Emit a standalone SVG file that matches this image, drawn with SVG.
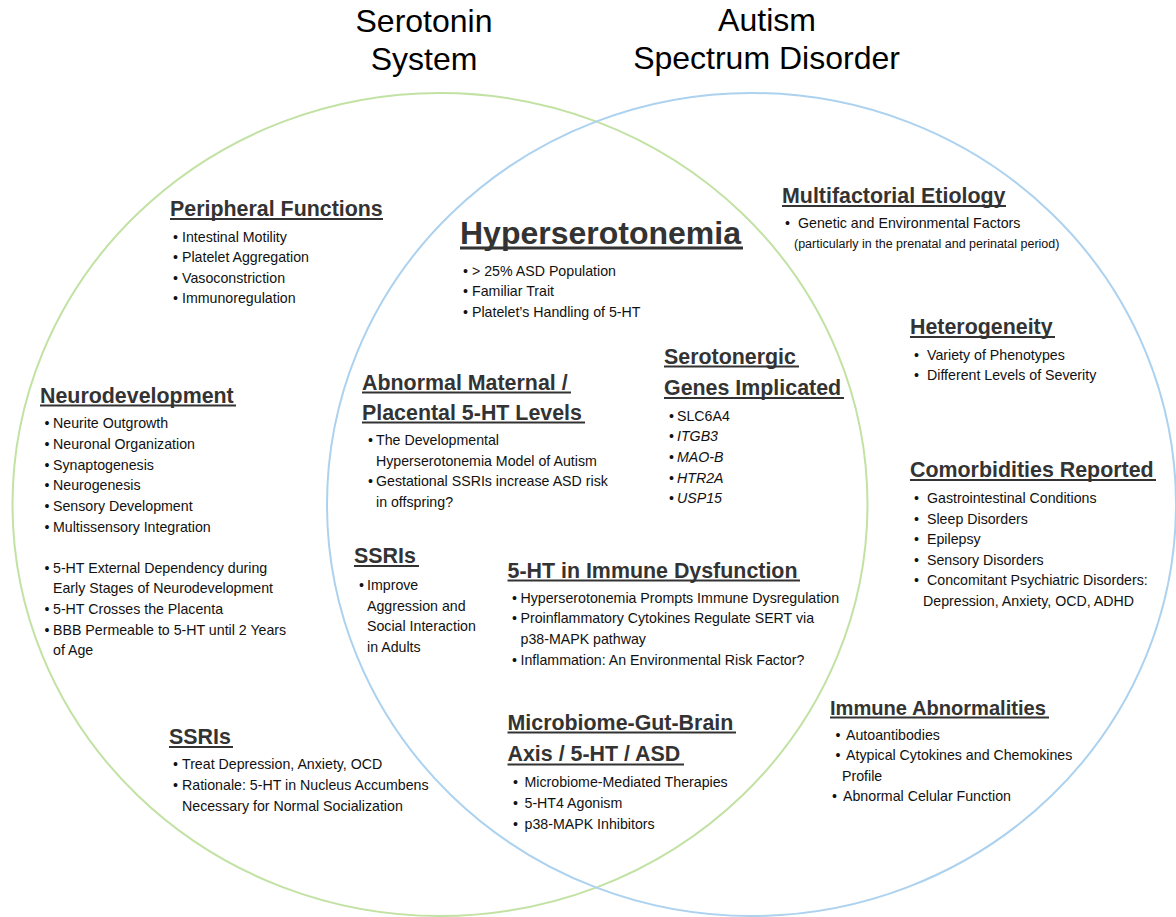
<svg xmlns="http://www.w3.org/2000/svg" width="1176" height="917" viewBox="0 0 1176 917">
<style>
.t{font-family:"Liberation Sans",Arial,sans-serif;font-size:32px;fill:#000;text-anchor:middle}
.h{font-family:"Liberation Sans",Arial,sans-serif;font-size:21.4px;font-weight:bold;fill:#333}
.hb{font-family:"Liberation Sans",Arial,sans-serif;font-size:32px;font-weight:bold;fill:#333}
.b{font-family:"Liberation Sans",Arial,sans-serif;font-size:14.2px;fill:#111}
.s{font-family:"Liberation Sans",Arial,sans-serif;font-size:12.5px;fill:#111}
.i{font-style:italic}
.ul{stroke:#333;stroke-width:2}
.ulb{stroke:#333;stroke-width:3}
</style>
<rect width="1176" height="917" fill="#fff"/>
<g id="venn" fill="none" stroke-width="2">
<ellipse cx="440" cy="504.5" rx="427.5" ry="411.5" stroke="#c2e2a4"/>
<ellipse cx="751.5" cy="504.5" rx="424.5" ry="411.5" stroke="#acd2ef"/>
</g>
<g id="title-serotonin"><text class="t" x="424" y="32">Serotonin</text><text class="t" x="424" y="70">System</text></g>
<g id="title-asd"><text class="t" x="767" y="31">Autism</text><text class="t" x="766.5" y="69">Spectrum Disorder</text></g>

<g id="peripheral">
<text class="h" x="170" y="216">Peripheral Functions</text><line class="ul" x1="170" y1="219" x2="383" y2="219"/>
<text class="b"><tspan x="173" y="241.5">•</tspan><tspan x="182" y="241.5">Intestinal Motility</tspan><tspan x="173" y="262">•</tspan><tspan x="182" y="262">Platelet Aggregation</tspan><tspan x="173" y="282.7">•</tspan><tspan x="182" y="282.7">Vasoconstriction</tspan><tspan x="173" y="303.3">•</tspan><tspan x="182" y="303.3">Immunoregulation</tspan></text>
</g>

<g id="hyperserotonemia">
<text class="hb" x="460" y="244">Hyperserotonemia</text><line class="ulb" x1="460" y1="248" x2="743" y2="248"/>
<text class="b"><tspan x="463" y="275.5">•</tspan><tspan x="472" y="275.5">&gt; 25% ASD Population</tspan><tspan x="463" y="296">•</tspan><tspan x="472" y="296">Familiar Trait</tspan><tspan x="463" y="316.5">•</tspan><tspan x="472" y="316.5">Platelet’s Handling of 5-HT</tspan></text>
</g>

<g id="multifactorial">
<text class="h" x="782" y="203">Multifactorial Etiology</text><line class="ul" x1="782" y1="206" x2="1006" y2="206"/>
<text class="b"><tspan x="785" y="228">•</tspan><tspan x="798" y="228">Genetic and Environmental Factors</tspan></text>
<text class="s" x="794" y="247.5">(particularly in the prenatal and perinatal period)</text>
</g>

<g id="heterogeneity">
<text class="h" x="910" y="334">Heterogeneity</text><line class="ul" x1="910" y1="337" x2="1055" y2="337"/>
<text class="b"><tspan x="914" y="359.5">•</tspan><tspan x="927" y="359.5">Variety of Phenotypes</tspan><tspan x="914" y="380">•</tspan><tspan x="927" y="380">Different Levels of Severity</tspan></text>
</g>

<g id="comorbidities">
<text class="h" x="910" y="477">Comorbidities Reported</text><line class="ul" x1="910" y1="480" x2="1156" y2="480"/>
<text class="b"><tspan x="914" y="503">•</tspan><tspan x="927" y="503">Gastrointestinal Conditions</tspan><tspan x="914" y="523.5">•</tspan><tspan x="927" y="523.5">Sleep Disorders</tspan><tspan x="914" y="544">•</tspan><tspan x="927" y="544">Epilepsy</tspan><tspan x="914" y="564.7">•</tspan><tspan x="927" y="564.7">Sensory Disorders</tspan><tspan x="914" y="585.3">•</tspan><tspan x="927" y="585.3">Concomitant Psychiatric Disorders:</tspan><tspan x="923" y="606">Depression, Anxiety, OCD, ADHD</tspan></text>
</g>

<g id="neurodevelopment">
<text class="h" x="40" y="402.5">Neurodevelopment</text><line class="ul" x1="40" y1="405.5" x2="236" y2="405.5"/>
<text class="b"><tspan x="44.5" y="428.3">•</tspan><tspan x="53" y="428.3">Neurite Outgrowth</tspan><tspan x="44.5" y="449">•</tspan><tspan x="53" y="449">Neuronal Organization</tspan><tspan x="44.5" y="469.7">•</tspan><tspan x="53" y="469.7">Synaptogenesis</tspan><tspan x="44.5" y="490.3">•</tspan><tspan x="53" y="490.3">Neurogenesis</tspan><tspan x="44.5" y="511">•</tspan><tspan x="53" y="511">Sensory Development</tspan><tspan x="44.5" y="531.7">•</tspan><tspan x="53" y="531.7">Multissensory Integration</tspan><tspan x="44.5" y="573.3">•</tspan><tspan x="53" y="573.3">5-HT External Dependency during</tspan><tspan x="53" y="593.3">Early Stages of Neurodevelopment</tspan><tspan x="44.5" y="614">•</tspan><tspan x="53" y="614">5-HT Crosses the Placenta</tspan><tspan x="44.5" y="634.7">•</tspan><tspan x="53" y="634.7">BBB Permeable to 5-HT until 2 Years</tspan><tspan x="53" y="655.3">of Age</tspan></text>
</g>

<g id="maternal">
<text class="h" x="362" y="389.5">Abnormal Maternal /</text><line class="ul" x1="362" y1="392.5" x2="571" y2="392.5"/>
<text class="h" x="362" y="419.5">Placental 5-HT Levels</text><line class="ul" x1="362" y1="422.5" x2="585" y2="422.5"/>
<text class="b"><tspan x="368" y="445">•</tspan><tspan x="376" y="445">The Developmental</tspan><tspan x="376" y="465.7">Hyperserotonemia Model of Autism</tspan><tspan x="368" y="486.3">•</tspan><tspan x="376" y="486.3">Gestational SSRIs increase ASD risk</tspan><tspan x="376" y="507">in offspring?</tspan></text>
</g>

<g id="genes">
<text class="h" x="664" y="363.5">Serotonergic</text><line class="ul" x1="664" y1="366.5" x2="799" y2="366.5"/>
<text class="h" x="664" y="394.5">Genes Implicated</text><line class="ul" x1="664" y1="398" x2="844" y2="398"/>
<text class="b"><tspan x="669" y="420.7">•</tspan><tspan x="677" y="420.7">SLC6A4</tspan><tspan x="669" y="441.3">•</tspan><tspan class="i" x="677" y="441.3">ITGB3</tspan><tspan x="669" y="462">•</tspan><tspan class="i" x="677" y="462">MAO-B</tspan><tspan x="669" y="482.7">•</tspan><tspan class="i" x="677" y="482.7">HTR2A</tspan><tspan x="669" y="503.3">•</tspan><tspan class="i" x="677" y="503.3">USP15</tspan></text>
</g>

<g id="ssris-adults">
<text class="h" x="354" y="563">SSRIs</text><line class="ul" x1="354" y1="566" x2="419" y2="566"/>
<text class="b"><tspan x="359" y="590">•</tspan><tspan x="367" y="590">Improve</tspan><tspan x="367" y="610.7">Aggression and</tspan><tspan x="367" y="631.3">Social Interaction</tspan><tspan x="367" y="652">in Adults</tspan></text>
</g>

<g id="immune-dysfunction">
<text class="h" x="507.5" y="577.5">5-HT in Immune Dysfunction</text><line class="ul" x1="507.5" y1="580.5" x2="800" y2="580.5"/>
<text class="b"><tspan x="512" y="602.7">•</tspan><tspan x="520.5" y="602.7">Hyperserotonemia Prompts Immune Dysregulation</tspan><tspan x="512" y="623.3">•</tspan><tspan x="520.5" y="623.3">Proinflammatory Cytokines Regulate SERT via</tspan><tspan x="520.5" y="644">p38-MAPK pathway</tspan><tspan x="512" y="664.7">•</tspan><tspan x="520.5" y="664.7">Inflammation: An Environmental Risk Factor?</tspan></text>
</g>

<g id="microbiome">
<text class="h" x="507.5" y="729.5">Microbiome-Gut-Brain</text><line class="ul" x1="507.5" y1="732.5" x2="736" y2="732.5"/>
<text class="h" x="507.5" y="761">Axis / 5-HT / ASD</text><line class="ul" x1="507.5" y1="764.5" x2="684" y2="764.5"/>
<text class="b"><tspan x="513" y="787.3">•</tspan><tspan x="524.5" y="787.3">Microbiome-Mediated Therapies</tspan><tspan x="513" y="808">•</tspan><tspan x="524.5" y="808">5-HT4 Agonism</tspan><tspan x="513" y="828.7">•</tspan><tspan x="524.5" y="828.7">p38-MAPK Inhibitors</tspan></text>
</g>

<g id="immune-abnormalities">
<text class="h" x="830" y="714.5" style="font-size:20.1px">Immune Abnormalities</text><line class="ul" x1="830" y1="717.5" x2="1049" y2="717.5"/>
<text class="b"><tspan x="835.5" y="739.5">•</tspan><tspan x="846" y="739.5">Autoantibodies</tspan><tspan x="835.5" y="760">•</tspan><tspan x="846" y="760">Atypical Cytokines and Chemokines</tspan><tspan x="842" y="780.7">Profile</tspan><tspan x="832" y="801.3">•</tspan><tspan x="843" y="801.3">Abnormal Celular Function</tspan></text>
</g>

<g id="ssris-depression">
<text class="h" x="169" y="744">SSRIs</text><line class="ul" x1="169" y1="747" x2="233" y2="747"/>
<text class="b"><tspan x="173" y="769">•</tspan><tspan x="182" y="769">Treat Depression, Anxiety, OCD</tspan><tspan x="173" y="790">•</tspan><tspan x="182" y="790">Rationale: 5-HT in Nucleus Accumbens</tspan><tspan x="182" y="810.5">Necessary for Normal Socialization</tspan></text>
</g>
</svg>
